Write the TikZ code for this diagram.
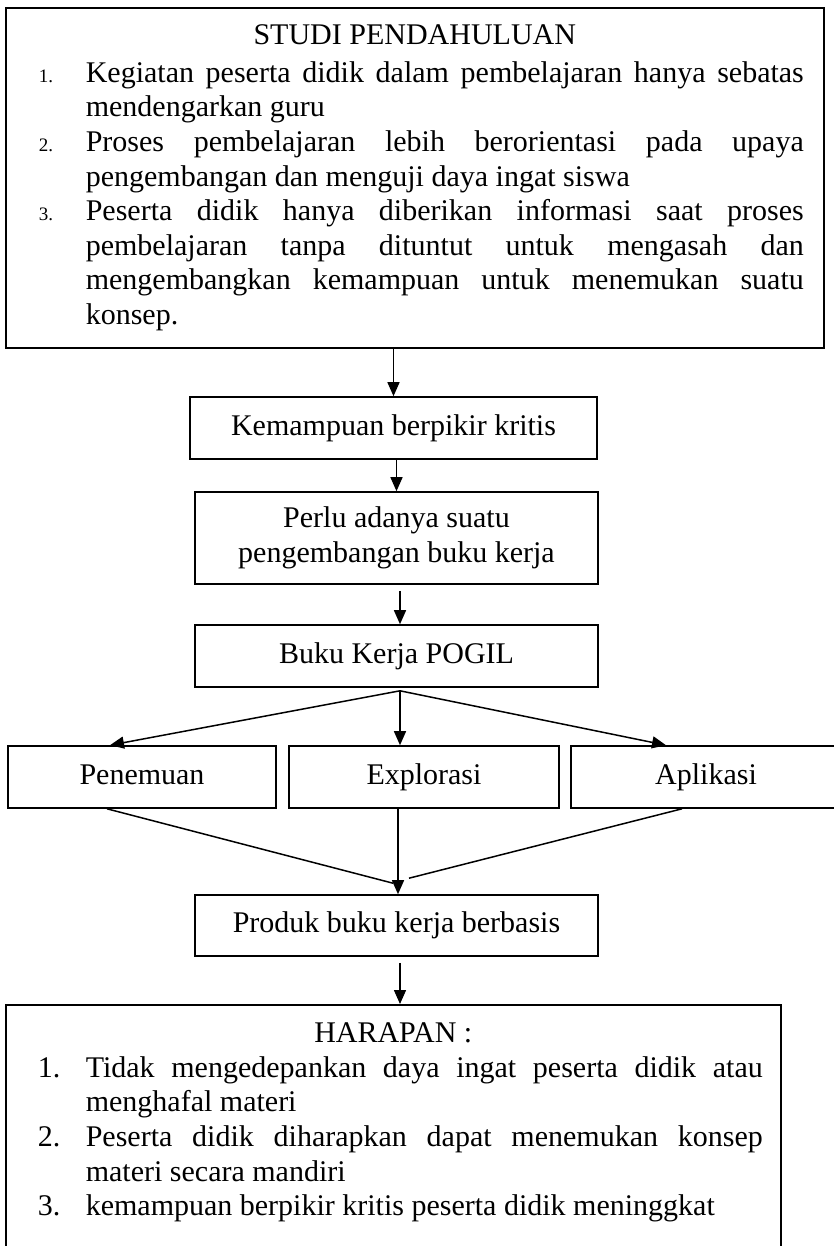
\documentclass[tikz,border=0pt]{standalone}
\usepackage{fontspec}
\setmainfont{Liberation Serif}
\usetikzlibrary{arrows.meta,positioning,calc}

\newcommand{\butir}[3][48pt]{\noindent\llap{\makebox[#1][l]{#2}}#3\par}
\newcommand{\kecil}{\fontsize{19}{34.6}\selectfont}

\begin{document}
\begin{tikzpicture}[x=1pt, y=-1pt,
    box/.style={draw, line width=1.6pt, inner sep=0pt,
      align=center, font=\fontsize{30}{34.6}\selectfont},
    satu/.style={text height=21pt, text depth=7pt},
    bigbox/.style={draw, line width=1.6pt, anchor=north west, align=justify,
      font=\fontsize{30}{34.6}\selectfont},
    arr/.style={-{Triangle[length=14pt, width=12pt]}, line width=1.5pt},
    garis/.style={line width=1.5pt}
]
\clip (0,0) rectangle (834,1246);

% --- Studi pendahuluan ---
\node[bigbox, text width=778pt, inner xsep=20pt, inner ysep=17pt] (studi) at (5,7) {%
  \parindent=0pt \tolerance=10000 \hbadness=10000
  {\centering STUDI PENDAHULUAN\par}
  \vspace{3pt}
  \leftskip=60pt
  \butir[47pt]{\kecil 1.}{Kegiatan peserta didik dalam pembelajaran hanya sebatas\linebreak
    mendengarkan guru}
  \butir[47pt]{\kecil 2.}{Proses pembelajaran lebih berorientasi pada upaya\linebreak
    pengembangan dan menguji daya ingat siswa}
  \butir[47pt]{\kecil 3.}{Peserta didik hanya diberikan informasi saat proses\linebreak
    pembelajaran tanpa dituntut untuk mengasah dan\linebreak
    mengembangkan kemampuan untuk menemukan suatu\linebreak
    konsep.}};

% --- Alur tengah ---
\node[box, satu, minimum width=407pt, minimum height=62pt] (kritis) at (393.5,428)
      {Kemampuan berpikir kritis};
\node[box, minimum width=403pt, minimum height=92pt] (perlu) at (396.5,538)
      {Perlu adanya suatu\\pengembangan buku kerja};
\node[box, satu, minimum width=403pt, minimum height=62pt] (pogil) at (396.5,656)
      {Buku Kerja POGIL};

% --- Tiga tahap ---
\node[box, satu, minimum width=268pt, minimum height=62pt] (temu) at (142,777) {Penemuan};
\node[box, satu, minimum width=270pt, minimum height=62pt] (explor) at (424,777) {Explorasi};
\node[box, satu, minimum width=270pt, minimum height=62pt] (aplik) at (706,777) {Aplikasi};

\node[box, satu, minimum width=403pt, minimum height=61pt] (produk) at (396.5,925.5)
      {Produk buku kerja berbasis};

% --- Harapan ---
\node[bigbox, text width=739pt, inner xsep=18pt, inner ysep=18pt] (harapan) at (5,1004) {%
  \parindent=0pt \tolerance=10000 \hbadness=10000
  {\centering HARAPAN :\par}
  \leftskip=62pt
  \butir{1.}{Tidak mengedepankan daya ingat peserta didik atau\linebreak
    menghafal materi}
  \butir{2.}{Peserta didik diharapkan dapat menemukan konsep\linebreak
    materi secara mandiri}
  \butir{3.}{kemampuan berpikir kritis peserta didik meninggkat}
  \mbox{}\par};

% --- Panah ---
\draw[arr] (studi.south -| kritis.north) -- (kritis.north);
\draw[arr] (kritis.south -| perlu.north) -- (perlu.north);
\draw[arr] ([xshift=3.5pt, yshift=-6pt]perlu.south) -- ([xshift=3.5pt]pogil.north);

\coordinate (cabang) at ([xshift=3.5pt, yshift=-3pt]pogil.south);
\draw[arr] (cabang) -- ([xshift=-32pt]temu.north);
\draw[arr] (cabang) -- (cabang |- explor.north);
\draw[arr] (cabang) -- ([xshift=-40pt]aplik.north);

\coordinate (ujung) at ([xshift=1.5pt]produk.north);
\draw[garis] ([xshift=-35pt]temu.south) -- ([xshift=-3.5pt, yshift=11pt]produk.north);
\draw[arr] (ujung |- explor.south) -- (ujung);
\draw[garis] ([xshift=-24pt]aplik.south) -- ([xshift=12.5pt, yshift=16pt]produk.north);

\draw[arr] ([xshift=3.5pt, yshift=-6pt]produk.south) -- ([xshift=3.5pt]produk.south |- harapan.north);
\end{tikzpicture}
\end{document}
